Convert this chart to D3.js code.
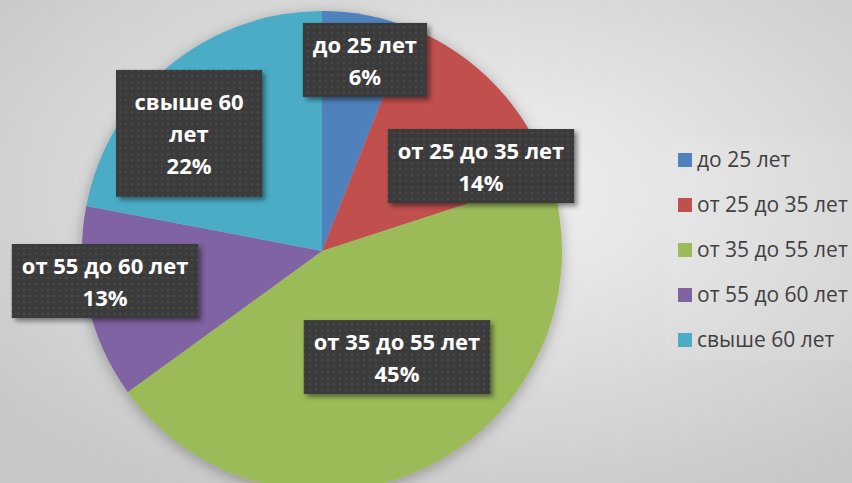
<!DOCTYPE html>
<html>
<head>
<meta charset="utf-8">
<script src="https://cdn.jsdelivr.net/npm/d3@7"></script>
<style>
  html, body { margin: 0; padding: 0; overflow: hidden; }
  svg { display: block; }
</style>
</head>
<body>
<div id="container"></div>
<script>
/* CONSTANTS AND GLOBALS */
const width = 852,
  height = 483

// DATA
const categories = ["до 25 лет", "от 25 до 35 лет", "от 35 до 55 лет", "от 55 до 60 лет", "свыше 60 лет"]
const shares = [6, 14, 45, 13, 22]
const colors = ["#4f81bd", "#c0504d", "#9bbb59", "#8064a2", "#4bacc6"]
const labelLines = [["до 25 лет"], ["от 25 до 35 лет"], ["от 35 до 55 лет"], ["от 55 до 60 лет"], ["свыше 60", "лет"]]

// label box centres, in units of the radius from the pie centre
const labelPos = [[0.179, -0.796], [0.6625, -0.354], [0.3125, 0.442], [-0.904, 0.125], [-0.554, -0.49]]
// minimum label box size (the wrapped label gets a fixed box)
const labelBoxMin = [[0, 0], [0, 0], [0, 0], [0, 0], [146, 127]]

const cx = 322, cy = 251, radius = 240

const data = categories.map((c, i) => ({ cat: c, value: shares[i], color: colors[i], lines: labelLines[i] }))

const svg = d3.select("#container")
  .append("svg")
  .attr("width", width)
  .attr("height", height)

const defs = svg.append("defs")

// background gradient
const bg = defs.append("radialGradient")
  .attr("id", "bg")
  .attr("cx", "55%").attr("cy", "40%").attr("r", "70%")
bg.append("stop").attr("offset", "0%").attr("stop-color", "#f3f3f3")
bg.append("stop").attr("offset", "100%").attr("stop-color", "#c8c8c8")

// pie shadow
const pieShadow = defs.append("filter").attr("id", "pieShadow")
  .attr("x", "-20%").attr("y", "-20%").attr("width", "140%").attr("height", "140%")
pieShadow.append("feDropShadow")
  .attr("dx", 0).attr("dy", 3).attr("stdDeviation", 7)
  .attr("flood-color", "#000").attr("flood-opacity", 0.3)

// label shadow
const boxShadow = defs.append("filter").attr("id", "boxShadow")
  .attr("x", "-20%").attr("y", "-20%").attr("width", "140%").attr("height", "140%")
boxShadow.append("feDropShadow")
  .attr("dx", 3).attr("dy", 3).attr("stdDeviation", 2.5)
  .attr("flood-color", "#000").attr("flood-opacity", 0.45)

// dotted dark texture for the label boxes
const pat = defs.append("pattern")
  .attr("id", "dots")
  .attr("patternUnits", "userSpaceOnUse")
  .attr("width", 6).attr("height", 6)
pat.append("rect").attr("width", 6).attr("height", 6).attr("fill", "#3b3b3b")
pat.append("rect").attr("x", 2).attr("y", 2).attr("width", 2).attr("height", 2).attr("fill", "#4a4a4a")

svg.append("rect")
  .attr("width", width)
  .attr("height", height)
  .attr("fill", "url(#bg)")

// legend backing
svg.append("rect")
  .attr("x", 665).attr("y", 137)
  .attr("width", 187).attr("height", 224)
  .attr("fill", "#ffffff").attr("opacity", 0.07)

// PIE
const pie = d3.pie()
  .sort(null)
  .value(d => d.value)

const arcGen = d3.arc()
  .innerRadius(0)
  .outerRadius(radius)

const arcs = pie(data)

const pieG = svg.append("g")
  .attr("transform", `translate(${cx}, ${cy})`)

pieG.append("g")
  .attr("filter", "url(#pieShadow)")
  .selectAll("path")
  .data(arcs)
  .join("path")
  .attr("d", arcGen)
  .attr("fill", d => d.data.color)

// LABELS
const lineH = 32
const labels = pieG.selectAll(".label")
  .data(arcs)
  .join("g")
  .attr("class", "label")
  .attr("transform", (d, i) => `translate(${labelPos[i][0] * radius}, ${labelPos[i][1] * radius})`)

labels.each(function (d, i) {
  const g = d3.select(this)
  const lines = d.data.lines.concat([d.data.value + "%"])
  const box = g.append("rect").attr("filter", "url(#boxShadow)").attr("fill", "url(#dots)")
  const text = g.append("text")
    .attr("text-anchor", "middle")
    .attr("fill", "#ffffff")
    .style("font-family", "'Open Sans', sans-serif")
    .style("font-weight", "bold")
    .style("font-size", "22px")
  lines.forEach((l, j) => {
    text.append("tspan")
      .attr("x", 0)
      .attr("y", (j - (lines.length - 1) / 2) * lineH + 9)
      .text(l)
  })
  const bb = text.node().getBBox()
  const w = Math.max(bb.width + 20, labelBoxMin[i][0])
  const h = Math.max(bb.height + 12, labelBoxMin[i][1])
  box.attr("x", -w / 2).attr("y", -h / 2)
    .attr("width", w).attr("height", h)
})

// LEGEND
const legend = svg.append("g")
  .attr("transform", `translate(678, 153)`)

const items = legend.selectAll(".item")
  .data(data)
  .join("g")
  .attr("class", "item")
  .attr("transform", (d, i) => `translate(0, ${i * 45})`)

items.append("rect")
  .attr("width", 14).attr("height", 14)
  .attr("fill", d => d.color)

items.append("text")
  .attr("x", 19)
  .attr("y", 14)
  .attr("fill", "#404040")
  .style("font-family", "'Open Sans', sans-serif")
  .style("font-size", "21px")
  .text(d => d.cat)
</script>
</body>
</html>
